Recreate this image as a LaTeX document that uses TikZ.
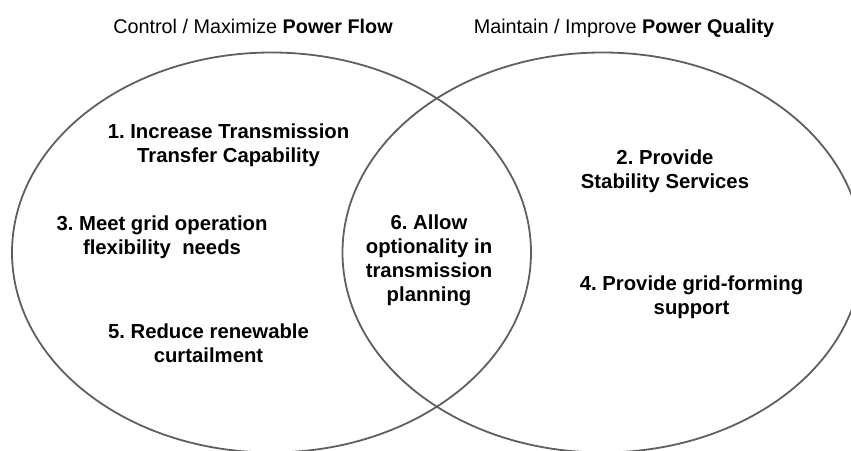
\documentclass[tikz,border=0pt]{standalone}
\usepackage{fontspec}
\setmainfont{Liberation Sans}
\usetikzlibrary{shapes.geometric}
\definecolor{vennGray}{RGB}{95,95,95}
\frenchspacing

\begin{document}
\begin{tikzpicture}[x=1pt, y=-1pt,
    ring/.style={ellipse, draw=vennGray, line width=1.8pt, inner sep=0pt,
                 minimum width=519pt, minimum height=400pt},
    goal/.style={font=\bfseries\fontsize{20.3}{24}\selectfont, align=center, inner sep=0pt},
    head/.style={font=\fontsize{19.8}{23}\selectfont, anchor=base, inner sep=0pt}]
  \useasboundingbox (0,0) rectangle (851,450);
  \clip (0,0) rectangle (851,450);

  % the two overlapping sets
  \node[ring] (flow) at (271.5,252.5) {};
  \node[ring, minimum width=520pt] (quality) at (602.5,252.5) {};

  \node[head] (flowHead) at (253,33) {Control / Maximize \textbf{Power Flow}};
  \node[head] (qualityHead) at (624,33) {Maintain / Improve \textbf{Power Quality}};

  % goals
  \node[goal] (g1) at (228.5,145.5) {1. Increase Transmission\\Transfer Capability};
  \node[goal] (g2) at (665,171.5) {2. Provide\\Stability Services};
  \node[goal] (g3) at (162,237) {3. Meet grid operation\\flexibility\ \ needs};
  \node[goal] (g4) at (691.5,297) {4. Provide grid-forming\\support};
  \node[goal] (g5) at (208.5,343.5) {5. Reduce renewable\\curtailment};
  \node[goal] (g6) at (429,260.5) {6. Allow\\optionality in\\transmission\\planning};
\end{tikzpicture}
\end{document}
